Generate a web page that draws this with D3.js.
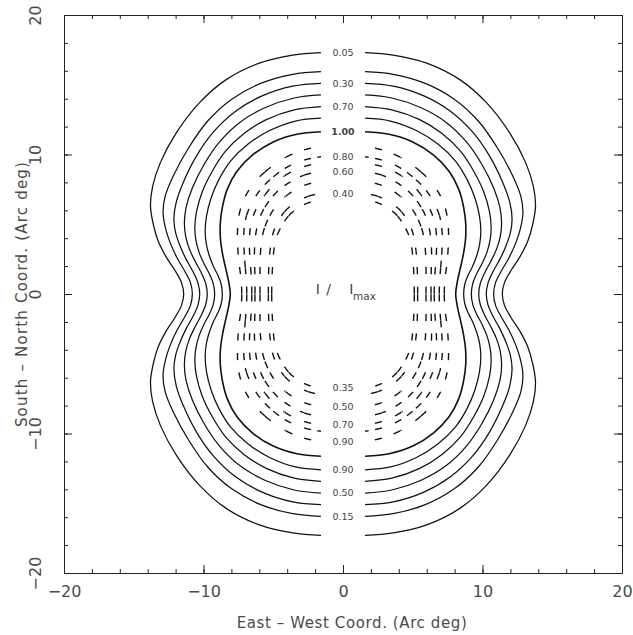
<!DOCTYPE html>
<html>
<head>
<meta charset="utf-8">
<script src="https://cdn.jsdelivr.net/npm/d3@7"></script>
<style>
  body { margin: 0; background: #fff; }
  text { font-family: "DejaVu Sans", sans-serif; fill: #3c3c3c; }
</style>
</head>
<body>
<div id="chart"></div>
<script>
// Data (degrees). Each contour: upper-right quadrant, from the label gap down to the waist (y = 0).
// The pattern is mirrored left/right and top/bottom.
var xTickValues = [-20, -10, 0, 10, 20];
var yTickValues = [-20, -10, 0, 10, 20];

// solid contours, outer to inner
var solidLevels = ["0.05", "0.15", "0.30", "0.50", "0.70", "0.90", "1.00"];
var solidLabelSide = ["top", "bottom", "top", "bottom", "top", "bottom", "top"];
var c005 = [[1.58,17.30],[3.6,17.13],[6.0,16.55],[8.4,15.35],[10.3,13.7],[11.95,11.55],[13.1,9.4],[13.65,7.7],[13.8,6.3],[13.6,5.0],[13.25,3.8],[12.7,2.7],[12.05,1.7],[11.57,0.8],[11.42,0]];
var c015 = [[1.58,15.94],[3.6,15.75],[5.9,15.1],[8.0,13.95],[9.7,12.4],[11.05,10.5],[12.15,8.5],[12.75,7.0],[12.9,5.8],[12.72,4.7],[12.4,3.7],[11.9,2.6],[11.35,1.65],[10.93,0.8],[10.8,0]];
var c030 = [[1.58,15.10],[3.6,14.9],[5.8,14.2],[7.7,13.1],[9.3,11.6],[10.5,9.9],[11.45,8.0],[11.95,6.6],[12.12,5.4],[12.0,4.4],[11.7,3.5],[11.25,2.5],[10.75,1.6],[10.4,0.8],[10.27,0]];
var c050 = [[1.58,14.27],[3.5,14.05],[5.6,13.35],[7.4,12.3],[8.85,10.9],[9.95,9.3],[10.8,7.6],[11.25,6.2],[11.37,5.1],[11.27,4.1],[11.0,3.2],[10.6,2.35],[10.15,1.5],[9.84,0.75],[9.73,0]];
var c070 = [[1.58,13.43],[3.5,13.2],[5.5,12.5],[7.1,11.5],[8.45,10.2],[9.4,8.75],[10.1,7.3],[10.5,5.9],[10.62,4.8],[10.55,3.9],[10.32,3.0],[9.98,2.2],[9.58,1.45],[9.3,0.75],[9.2,0]];
var c090 = [[1.58,12.60],[3.4,12.4],[5.3,11.7],[6.8,10.75],[8.05,9.55],[8.9,8.2],[9.45,6.9],[9.78,5.6],[9.88,4.5],[9.8,3.6],[9.6,2.8],[9.3,2.0],[8.97,1.35],[8.73,0.7],[8.65,0]];
var c100 = [[1.58,11.63],[3.3,11.45],[5.0,10.9],[6.5,9.95],[7.6,8.8],[8.3,7.5],[8.65,6.2],[8.8,5.0],[8.78,3.9],[8.62,2.8],[8.4,1.8],[8.2,0.9],[8.08,0]];

// dashed contours, outer to inner
var dashedLevels = ["0.90", "0.80", "0.70", "0.60", "0.50", "0.40", "0.35"];
var dashedLabelSide = ["bottom", "top", "bottom", "top", "bottom", "top", "bottom"];
var d090 = [[1.58,10.59],[2.9,10.3],[4.2,9.75],[5.35,8.95],[6.3,8.05],[7.0,7.0],[7.4,5.9],[7.55,4.8],[7.55,3.5],[7.45,2.2],[7.3,1.0],[7.26,0]];
var d080 = [[1.58,9.84],[2.8,9.6],[4.0,9.1],[5.05,8.35],[5.9,7.5],[6.55,6.5],[6.95,5.5],[7.1,4.5],[7.1,3.3],[7.02,2.1],[6.93,1.0],[6.9,0]];
var d070 = [[1.58,9.39],[2.75,9.15],[3.9,8.65],[4.85,7.95],[5.6,7.1],[6.2,6.15],[6.55,5.2],[6.7,4.2],[6.7,3.1],[6.63,2.0],[6.56,1.0],[6.54,0]];
var d060 = [[1.58,8.77],[2.7,8.55],[3.75,8.05],[4.65,7.4],[5.35,6.6],[5.85,5.75],[6.15,4.85],[6.3,3.9],[6.35,2.9],[6.33,1.9],[6.31,1.0],[6.31,0]];
var d050 = [[1.58,8.08],[2.6,7.85],[3.55,7.4],[4.35,6.8],[4.95,6.1],[5.4,5.3],[5.7,4.5],[5.85,3.65],[5.93,2.75],[5.95,1.8],[5.95,0.9],[5.95,0]];
var d040 = [[1.58,7.22],[2.5,7.0],[3.35,6.6],[4.05,6.05],[4.55,5.4],[4.9,4.7],[5.1,4.0],[5.22,3.2],[5.3,2.4],[5.33,1.6],[5.35,0.8],[5.35,0]];
var d035 = [[1.58,6.74],[2.45,6.55],[3.25,6.15],[3.9,5.6],[4.35,4.95],[4.7,4.25],[4.9,3.5],[5.0,2.7],[5.06,1.8],[5.1,0.9],[5.11,0]];

var solidContours = [c005, c015, c030, c050, c070, c090, c100];
var dashedContours = [d090, d080, d070, d060, d050, d040, d035];

// Setup
var width = 633, height = 635;
var margin = { top: 15, right: 11, bottom: 62, left: 64 };
var plotW = width - margin.left - margin.right,
    plotH = height - margin.top - margin.bottom;

var x = d3.scaleLinear().domain([-20, 20]).range([0, plotW]);
var y = d3.scaleLinear().domain([-20, 20]).range([plotH, 0]);

var gridStep = 1.40;   // contouring grid, dashes restart in each cell
var dashLen = 7.5;     // px

var svg = d3.select("#chart")
    .append("svg")
    .attr("width", width)
    .attr("height", height)
    .append("g")
    .attr("transform", "translate(" + margin.left + "," + margin.top + ")");

// Axes: minor ticks every 2, major every 10, all inward
var minorVals = d3.range(-20, 21, 2);

svg.append("g")
    .attr("transform", `translate(0, ${plotH})`)
    .call(d3.axisBottom(x).tickValues(minorVals).tickSize(-4).tickSizeOuter(0).tickFormat(""));
var xMajor = svg.append("g")
    .attr("transform", `translate(0, ${plotH})`)
    .call(d3.axisBottom(x).tickValues(xTickValues).tickSize(-8).tickSizeOuter(0));
svg.append("g")
    .call(d3.axisTop(x).tickValues(minorVals).tickSize(-4).tickSizeOuter(0).tickFormat(""));
svg.append("g")
    .call(d3.axisTop(x).tickValues(xTickValues).tickSize(-8).tickSizeOuter(0).tickFormat(""));

svg.append("g")
    .call(d3.axisLeft(y).tickValues(minorVals).tickSize(-4).tickSizeOuter(0).tickFormat(""));
var yMajor = svg.append("g")
    .call(d3.axisLeft(y).tickValues(yTickValues).tickSize(-8).tickSizeOuter(0));
svg.append("g")
    .attr("transform", `translate(${plotW}, 0)`)
    .call(d3.axisRight(y).tickValues(minorVals).tickSize(-4).tickSizeOuter(0).tickFormat(""));
svg.append("g")
    .attr("transform", `translate(${plotW}, 0)`)
    .call(d3.axisRight(y).tickValues(yTickValues).tickSize(-8).tickSizeOuter(0).tickFormat(""));

svg.selectAll(".domain, .tick line").attr("stroke", "#222").attr("stroke-width", 1);

xMajor.selectAll("text")
    .attr("y", 24).attr("dy", 0)
    .style("font-size", "16px").style("fill", "#4a4a4a");
yMajor.selectAll("text")
    .attr("x", 0).attr("dy", 0)
    .attr("text-anchor", "middle")
    .attr("transform", "translate(-23,0) rotate(-90)")
    .style("font-size", "16px").style("fill", "#4a4a4a");

svg.append("text")
    .attr("x", x(0) + 9).attr("y", plotH + 55)
    .attr("text-anchor", "middle")
    .style("font-size", "15px")
    .style("letter-spacing", "0.6px")
    .style("fill", "#4a4a4a")
    .text("East \u2013 West Coord. (Arc deg)");

svg.append("text")
    .attr("transform", `translate(${-37}, ${y(0)}) rotate(-90)`)
    .attr("text-anchor", "middle")
    .style("font-size", "15px")
    .style("letter-spacing", "1.2px")
    .style("fill", "#4a4a4a")
    .text("South \u2013 North Coord. (Arc deg)");

// Contours
var line = d3.line()
    .x(d => x(d[0]))
    .y(d => y(d[1]))
    .curve(d3.curveCatmullRom.alpha(0.5));

function rightHalf(q) {
    var lower = q.slice(0, -1).reverse().map(p => [p[0], -p[1]]);
    return q.concat(lower);
}

var contourG = svg.append("g");

solidContours.forEach(function (q, i) {
    var half = rightHalf(q);
    [1, -1].forEach(function (s) {
        contourG.append("path")
            .attr("d", line(half.map(p => [s * p[0], p[1]])))
            .attr("fill", "none")
            .attr("stroke", "#111")
            .attr("stroke-width", solidLevels[i] === "1.00" ? 1.6 : 1.25);
    });
});

// dashed: sample the curve, break it by grid cell, draw a short dash at the start of each cell
function quadrantDashes(q) {
    var tmp = contourG.append("path").attr("d", line(rightHalf(q))).attr("fill", "none");
    var node = tmp.node(), total = node.getTotalLength();
    var pts = [];
    for (var s = 0; s <= total; s += 0.4) {
        var p = node.getPointAtLength(s);
        var dp = [x.invert(p.x), y.invert(p.y)];
        if (dp[1] >= -1e-6) pts.push(dp);
    }
    tmp.remove();
    pts.reverse(); // trace from the waist upward
    var dashes = [], key = null, cur = null, run = 0, prev = null;
    pts.forEach(function (p) {
        var k = Math.floor(p[0] / gridStep + 1e-6) + "," + Math.floor(Math.max(p[1], 0) / gridStep + 1e-6);
        if (k !== key) {
            key = k; run = 0; cur = [p]; dashes.push(cur); prev = p;
            return;
        }
        run += Math.hypot(x(p[0]) - x(prev[0]), y(p[1]) - y(prev[1]));
        prev = p;
        if (run <= dashLen) cur.push(p);
    });
    return dashes.filter(d => d.length > 1);
}

var straight = d3.line().x(d => x(d[0])).y(d => y(d[1]));

dashedContours.forEach(function (q) {
    var dashes = quadrantDashes(q);
    [[1, 1], [-1, 1], [1, -1], [-1, -1]].forEach(function (m) {
        dashes.forEach(function (d) {
            contourG.append("path")
                .attr("d", straight(d.map(p => [m[0] * p[0], m[1] * p[1]])))
                .attr("fill", "none")
                .attr("stroke", "#111")
                .attr("stroke-width", 1.4);
        });
    });
});

// Level labels in the central gap
function addLabel(txt, q, side, bold) {
    var yy = side === "top" ? q[0][1] : -q[0][1];
    svg.append("text")
        .attr("x", x(0)).attr("y", y(yy))
        .attr("dy", "0.35em")
        .attr("text-anchor", "middle")
        .style("font-size", "9.5px")
        .style("font-weight", bold ? "bold" : "normal")
        .style("fill", "#444")
        .text(txt);
}
solidContours.forEach((q, i) => addLabel(solidLevels[i], q, solidLabelSide[i], solidLevels[i] === "1.00"));
dashedContours.forEach((q, i) => addLabel(dashedLevels[i], q, dashedLabelSide[i], false));

// I / I_max
var ratio = svg.append("text")
    .attr("y", y(0))
    .style("font-size", "14px")
    .style("fill", "#444");
ratio.append("tspan").attr("x", x(-1.95)).text("I");
ratio.append("tspan").attr("x", x(-1.2)).text("/");
ratio.append("tspan").attr("x", x(0.45)).text("I");
ratio.append("tspan").attr("x", x(0.72)).attr("dy", 6).style("font-size", "10.5px").text("max");
</script>
</body>
</html>
